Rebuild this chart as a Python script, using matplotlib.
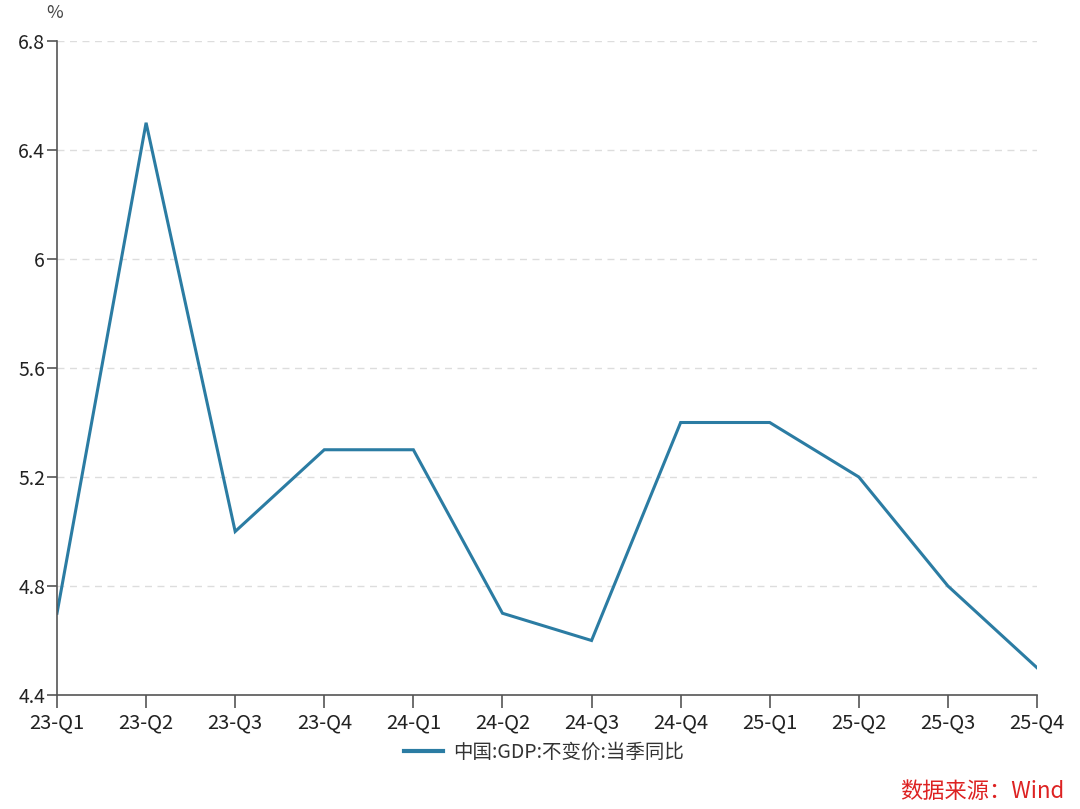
import matplotlib
matplotlib.use('Agg')
import matplotlib.pyplot as plt
from matplotlib.lines import Line2D

plt.rcParams['font.family'] = ['Noto Sans CJK SC', 'DejaVu Sans']

quarters = ['23-Q1', '23-Q2', '23-Q3', '23-Q4', '24-Q1', '24-Q2',
            '24-Q3', '24-Q4', '25-Q1', '25-Q2', '25-Q3', '25-Q4']
gdp_yoy = [4.7, 6.5, 5.0, 5.3, 5.3, 4.7, 4.6, 5.4, 5.4, 5.2, 4.8, 4.5]
y_ticks = [4.4, 4.8, 5.2, 5.6, 6.0, 6.4, 6.8]
y_labels = ['4.4', '4.8', '5.2', '5.6', '6', '6.4', '6.8']

line_color = '#2b7ca3'
axis_color = '#555555'

fig = plt.figure(figsize=(10.8, 8.09), dpi=100)
ax = fig.add_axes([57/1080, 1 - 695/809, (1037 - 57)/1080, (695 - 41)/809])

x = list(range(len(quarters)))
ax.plot(x, gdp_yoy, color=line_color, linewidth=2.2, solid_joinstyle='miter')

ax.set_xlim(0, len(quarters) - 1)
ax.set_ylim(4.4, 6.8)
ax.set_xticks(x)
ax.set_xticklabels(quarters)
ax.set_yticks(y_ticks)
ax.set_yticklabels(y_labels)

for yv in y_ticks[1:]:
    ax.axhline(yv, color='#dddddd', linestyle=(0, (5, 4)), linewidth=1, zorder=0)

for side in ['top', 'right']:
    ax.spines[side].set_visible(False)
for side in ['left', 'bottom']:
    ax.spines[side].set_color(axis_color)
    ax.spines[side].set_linewidth(1.2)

ax.tick_params(axis='x', length=9.5, width=1.2, color=axis_color, labelsize=14.5,
               labelcolor='#222222', pad=3)
ax.tick_params(axis='y', length=7, width=1.2, color=axis_color, labelsize=14,
               labelcolor='#222222', pad=1.5)

fig.text(55/1080, 1 - 13/809, '%', fontsize=13, color='#444444', ha='center', va='center')

handle = Line2D([], [], color=line_color, linewidth=3)
fig.legend([handle], ['中国:GDP:不变价:当季同比'], loc='center',
           bbox_to_anchor=(544/1080, 1 - 752/809), frameon=False,
           fontsize=14, handlelength=2.0, handletextpad=0.5,
           labelcolor='#333333')

fig.text(1064/1080, 1 - 792/809, '数据来源：Wind', fontsize=16, color='#dd2222',
         ha='right', va='center')

fig.savefig('out.png', dpi=100, facecolor='white')
